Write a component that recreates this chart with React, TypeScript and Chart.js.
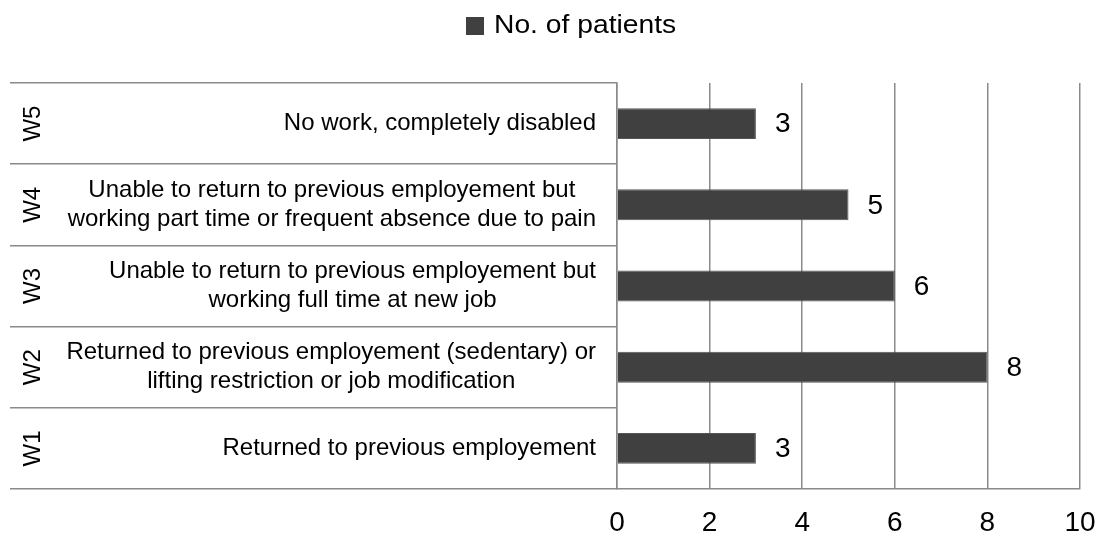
import React, { useEffect, useRef } from "react";
import { Chart, registerables } from "chart.js";

Chart.register(...registerables);

const codes = ["W5", "W4", "W3", "W2", "W1"];
const descriptions: string[][] = [
  ["No work, completely disabled"],
  ["Unable to return to previous employement but", "working part time or frequent absence due to pain"],
  ["Unable to return to previous employement but", "working full time at new job"],
  ["Returned to previous employement (sedentary) or", "lifting restriction or job modification"],
  ["Returned to previous employement"],
];
const patients = [3, 5, 6, 8, 3];
const seriesLabel = "No. of patients";
const xTicks = [0, 2, 4, 6, 8, 10];

const FONT = "'Liberation Sans', Arial, sans-serif";
const GRID = "#8a8a8a";
const BAR = "#404040";

export default function App() {
  const ref = useRef<HTMLCanvasElement | null>(null);
  useEffect(() => {
    if (!ref.current) return;
    const labelsPlugin = {
      id: "customLabels",
      afterDraw(chart: any) {
        const ctx = chart.ctx;
        const y = chart.scales.y;
        ctx.save();
        ctx.fillStyle = "#000";
        codes.forEach((c, i) => {
          const py = y.getPixelForValue(i);
          ctx.save();
          ctx.translate(33, py);
          ctx.rotate(-Math.PI / 2);
          ctx.font = `24px ${FONT}`;
          ctx.textAlign = "center";
          ctx.textBaseline = "middle";
          ctx.fillText(c, 0, 0);
          ctx.restore();
          const lines = descriptions[i];
          ctx.font = `24px ${FONT}`;
          ctx.textAlign = "center";
          ctx.textBaseline = "middle";
          const maxW = Math.max(...lines.map((l) => ctx.measureText(l).width));
          const cx = 596 - maxW / 2;
          const lh = 29;
          lines.forEach((l, k) => {
            ctx.fillText(l, cx, py + (k - (lines.length - 1) / 2) * lh);
          });
        });
        const meta = chart.getDatasetMeta(0);
        ctx.font = `28px ${FONT}`;
        ctx.textAlign = "left";
        ctx.textBaseline = "middle";
        meta.data.forEach((bar: any, i: number) => {
          ctx.fillText(String(patients[i]), bar.x + 19, bar.y + 1);
        });
        ctx.fillStyle = BAR;
        ctx.fillRect(466, 17, 18, 18);
        ctx.fillStyle = "#000";
        ctx.save();
        ctx.translate(494, 26);
        ctx.scale(1.13, 1);
        ctx.font = `25px ${FONT}`;
        ctx.textAlign = "left";
        ctx.textBaseline = "middle";
        ctx.fillText(seriesLabel, 0, 0);
        ctx.restore();
        ctx.restore();
      },
    };
    const chart = new Chart(ref.current, {
      type: "bar",
      data: {
        labels: codes,
        datasets: [
          {
            label: seriesLabel,
            data: patients,
            backgroundColor: BAR,
            borderColor: "#555555",
            borderWidth: 1,
            categoryPercentage: 1,
            barPercentage: 0.38,
          },
        ],
      },
      options: {
        indexAxis: "y",
        animation: false,
        responsive: false,
        maintainAspectRatio: false,
        layout: { padding: { top: 83, right: 22, left: 0, bottom: 0 } },
        plugins: { legend: { display: false }, tooltip: { enabled: false } },
        scales: {
          x: {
            min: 0,
            max: 10,
            afterBuildTicks: (s: any) => {
              s.ticks = xTicks.map((v) => ({ value: v }));
            },
            afterFit: (s: any) => {
              s.height = 50;
              s.paddingLeft = 0;
              s.paddingRight = 0;
            },
            grid: { color: GRID, lineWidth: 1.5, drawTicks: false },
            border: { display: true, color: GRID, width: 1.5 },
            ticks: {
              padding: 17,
              color: "#000",
              font: { size: 28, family: FONT },
            },
          },
          y: {
            afterFit: (s: any) => {
              s.width = 617;
            },
            offset: true,
            grid: {
              offset: true,
              drawOnChartArea: false,
              drawTicks: true,
              tickLength: 607,
              color: GRID,
              lineWidth: 1.5,
            },
            border: { display: true, color: GRID, width: 1.5 },
            ticks: { display: false },
          },
        },
      },
      plugins: [labelsPlugin],
    });
    return () => chart.destroy();
  }, []);
  return (
    <div style={{ position: "absolute", left: 0, top: 0, width: 1102, height: 539 }}>
      <canvas ref={ref} width={1102} height={539} style={{ width: 1102, height: 539 }} />
    </div>
  );
}
